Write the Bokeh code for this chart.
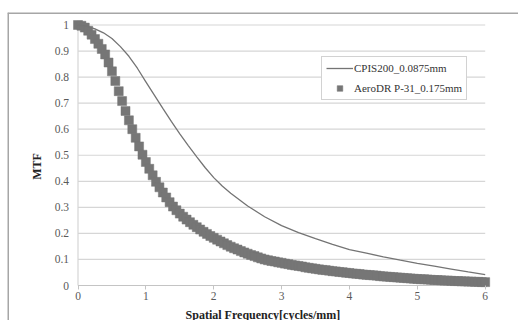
from bokeh.plotting import figure
from bokeh.models import FixedTicker, Legend, LegendItem, Range1d
from bokeh.embed import file_html
from bokeh.resources import INLINE

# ---------------- data ----------------
x_ticks = [0, 1, 2, 3, 4, 5, 6]
x_tick_labels = ["0", "1", "2", "3", "4", "5", "6"]
y_ticks = [0, 0.1, 0.2, 0.3, 0.4, 0.5, 0.6, 0.7, 0.8, 0.9, 1.0]
y_tick_labels = ["0", "0.1", "0.2", "0.3", "0.4", "0.5", "0.6", "0.7", "0.8", "0.9", "1"]

series_names = ["CPIS200_0.0875mm", "AeroDR P-31_0.175mm"]

# CPIS200 (line)
cpis_freq = [0.00, 0.125, 0.25, 0.375, 0.50, 0.625, 0.75, 0.875, 1.00, 1.125, 1.25, 1.375,
             1.50, 1.625, 1.75, 1.875, 2.00, 2.125, 2.25, 2.50, 2.75,
             3.00, 3.25, 3.50, 3.75, 4.00, 4.25, 4.50, 4.75, 5.00, 5.25, 5.50, 5.75, 6.00]
cpis_mtf = [1.000, 0.996, 0.985, 0.970, 0.948, 0.917, 0.880, 0.834, 0.782, 0.731, 0.680, 0.630,
            0.582, 0.537, 0.494, 0.452, 0.414, 0.382, 0.354, 0.305, 0.264,
            0.230, 0.203, 0.180, 0.158, 0.138, 0.124, 0.110, 0.097, 0.085, 0.074, 0.063, 0.052, 0.042]

# AeroDR P-31 (square markers)
aero_freq = [0.00, 0.05, 0.10, 0.15, 0.20, 0.25, 0.30, 0.35, 0.40, 0.45,
             0.50, 0.55, 0.60, 0.65, 0.70, 0.75, 0.80, 0.85, 0.90, 0.95,
             1.00, 1.05, 1.10, 1.15, 1.20, 1.25, 1.30, 1.35, 1.40, 1.45,
             1.50, 1.55, 1.60, 1.65, 1.70, 1.75, 1.80, 1.85, 1.90, 1.95,
             2.00, 2.05, 2.10, 2.15, 2.20, 2.25, 2.30, 2.35, 2.40, 2.45,
             2.50, 2.55, 2.60, 2.65, 2.70, 2.75, 2.80, 2.85, 2.90, 2.95,
             3.00, 3.05, 3.10, 3.15, 3.20, 3.25, 3.30, 3.35, 3.40, 3.45,
             3.50, 3.55, 3.60, 3.65, 3.70, 3.75, 3.80, 3.85, 3.90, 3.95,
             4.00, 4.05, 4.10, 4.15, 4.20, 4.25, 4.30, 4.35, 4.40, 4.45,
             4.50, 4.55, 4.60, 4.65, 4.70, 4.75, 4.80, 4.85, 4.90, 4.95,
             5.00, 5.05, 5.10, 5.15, 5.20, 5.25, 5.30, 5.35, 5.40, 5.45,
             5.50, 5.55, 5.60, 5.65, 5.70, 5.75, 5.80, 5.85, 5.90, 5.95,
             6.00]
aero_mtf = [1.000, 0.997, 0.990, 0.978, 0.963, 0.946, 0.928, 0.908, 0.887, 0.856,
            0.822, 0.785, 0.746, 0.708, 0.670, 0.634, 0.600, 0.567, 0.534, 0.502,
            0.474, 0.448, 0.423, 0.398, 0.377, 0.357, 0.338, 0.320, 0.303, 0.289,
            0.276, 0.264, 0.253, 0.243, 0.233, 0.224, 0.215, 0.206, 0.198, 0.190,
            0.183, 0.176, 0.169, 0.162, 0.155, 0.149, 0.143, 0.138, 0.132, 0.127,
            0.122, 0.117, 0.113, 0.108, 0.104, 0.100, 0.097, 0.094, 0.092, 0.089,
            0.087, 0.084, 0.082, 0.079, 0.077, 0.075, 0.073, 0.070, 0.068, 0.066,
            0.064, 0.062, 0.060, 0.059, 0.057, 0.055, 0.054, 0.052, 0.051, 0.049,
            0.048, 0.046, 0.045, 0.044, 0.042, 0.041, 0.040, 0.039, 0.038, 0.036,
            0.035, 0.034, 0.033, 0.032, 0.031, 0.030, 0.029, 0.028, 0.027, 0.026,
            0.025, 0.024, 0.024, 0.023, 0.022, 0.021, 0.021, 0.020, 0.019, 0.019,
            0.018, 0.017, 0.017, 0.016, 0.016, 0.015, 0.015, 0.014, 0.014, 0.013,
            0.013]

# ---------------- layout (pixels) ----------------
W, H = 518, 320
FRAME_LEFT, FRAME_TOP = 7, 12          # frame edges = outer chart border
X_LO_PX, X_HI_PX = 77.5, 484.7         # pixel of first / last x tick
Y_HI_PX, Y_LO_PX = 24.5, 285.0         # pixel of top / bottom y tick
fw, fh = W - FRAME_LEFT, H - FRAME_TOP
xs = (X_HI_PX - X_LO_PX) / (x_ticks[-1] - x_ticks[0])
ys = (Y_LO_PX - Y_HI_PX) / (y_ticks[-1] - y_ticks[0])
x_start = x_ticks[0] - (X_LO_PX - FRAME_LEFT) / xs
x_end = x_ticks[-1] + (W - X_HI_PX) / xs
y_end = y_ticks[-1] + (Y_HI_PX - FRAME_TOP) / ys
y_start = y_ticks[0] - (H - Y_LO_PX) / ys

FONT = "Liberation Serif"

p = figure(frame_width=fw, frame_height=fh, output_backend="svg", toolbar_location=None,
           x_range=Range1d(x_start, x_end), y_range=Range1d(y_start, y_end),
           min_border_left=FRAME_LEFT, min_border_top=FRAME_TOP,
           min_border_right=0, min_border_bottom=0)
p.outline_line_color = None
p.background_fill_color = "white"
p.border_fill_color = "white"
p.xgrid.visible = False
p.ygrid.visible = False

# outer chart border (left and top edges of the frame)
p.segment(x0=[x_start, x_start], x1=[x_start, x_end], y0=[y_start, y_end], y1=[y_end, y_end],
          line_color="#a6a6a6", line_width=3)

# gridlines and plot-area lines
n = len(y_ticks) - 1
p.segment(x0=[x_ticks[0]] * n, x1=[x_ticks[-1]] * n, y0=y_ticks[1:], y1=y_ticks[1:],
          line_color="#d6d6d6", line_width=1.2)
p.segment(x0=[x_ticks[0]], x1=[x_ticks[0]], y0=[y_ticks[0]], y1=[y_ticks[-1]],
          line_color="#d6d6d6", line_width=1.2)
p.segment(x0=[x_ticks[0]], x1=[x_ticks[-1]], y0=[y_ticks[0]], y1=[y_ticks[0]],
          line_color="#c4c4c4", line_width=1.2)

# series
sq_r = p.scatter(aero_freq, aero_mtf, marker="square", size=9,
                 fill_color="#767676", line_color="#767676", line_width=0.5)
line_r = p.line(cpis_freq, cpis_mtf, line_color="#747474", line_width=1.3)

# axes (placed inside the frame at x=0 / y=0)
p.xaxis.fixed_location = y_ticks[0]
p.yaxis.fixed_location = x_ticks[0]

p.xaxis.ticker = FixedTicker(ticks=x_ticks)
p.xaxis.major_label_overrides = {t: l for t, l in zip(x_ticks, x_tick_labels)}
p.xaxis.axis_line_color = None
p.xaxis.major_tick_in = 0
p.xaxis.major_tick_out = 4
p.xaxis.major_tick_line_color = "#c4c4c4"
p.xaxis.minor_tick_line_color = None
p.xaxis.major_label_standoff = 2
p.xaxis.major_label_text_font = FONT
p.xaxis.major_label_text_font_size = "11.5px"
p.xaxis.major_label_text_color = "#5a5a5a"
p.xaxis.axis_label = "Spatial Frequency[cycles/mm]"
p.xaxis.axis_label_text_font = FONT
p.xaxis.axis_label_text_font_style = "bold"
p.xaxis.axis_label_text_font_size = "12px"
p.xaxis.axis_label_text_color = "#222222"
p.xaxis.axis_label_standoff = 5

p.yaxis.ticker = FixedTicker(ticks=y_ticks)
p.yaxis.major_label_overrides = {t: l for t, l in zip(y_ticks, y_tick_labels)}
p.yaxis.axis_line_color = None
p.yaxis.major_tick_line_color = None
p.yaxis.minor_tick_line_color = None
p.yaxis.major_tick_out = 0
p.yaxis.major_tick_in = 0
p.yaxis.major_label_standoff = 9
p.yaxis.major_label_text_font = FONT
p.yaxis.major_label_text_font_size = "11.5px"
p.yaxis.major_label_text_color = "#5a5a5a"
p.yaxis.axis_label = "MTF"
p.yaxis.axis_label_text_font = FONT
p.yaxis.axis_label_text_font_style = "bold"
p.yaxis.axis_label_text_font_size = "12px"
p.yaxis.axis_label_text_color = "#222222"
p.yaxis.axis_label_standoff = 8

# legend (bottom-left corner, relative to frame bottom-left)
legend = Legend(items=[LegendItem(label=series_names[0], renderers=[line_r]),
                       LegendItem(label=series_names[1], renderers=[sq_r])],
                location=(321 - FRAME_LEFT, H - 100), padding=4, spacing=6, margin=0,
                glyph_width=27, glyph_height=14, label_height=14, label_standoff=1,
                label_text_font=FONT, label_text_font_size="11px",
                label_text_color="#333333",
                border_line_color="#a6a6a6", border_line_width=1,
                background_fill_color="white", background_fill_alpha=1)
p.add_layout(legend)

open("out.html", "w").write(file_html(p, INLINE))
